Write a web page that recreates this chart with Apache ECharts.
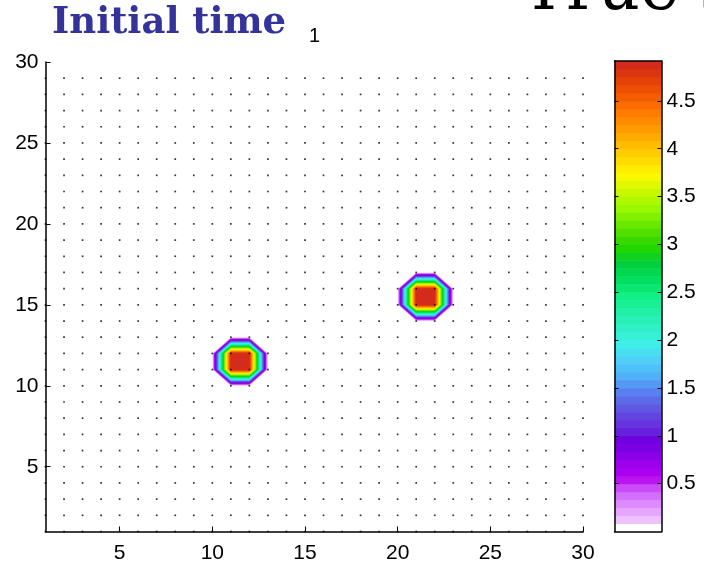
<!DOCTYPE html>
<html><head><meta charset="utf-8">
<script src="https://cdn.jsdelivr.net/npm/echarts@6/dist/echarts.min.js"></script>
<style>html,body{margin:0;padding:0;background:#fff}#c{width:704px;height:566px}</style>
</head><body><div id="c"></div>
<script>
// ---- data ----
const xGrid = [1,2,3,4,5,6,7,8,9,10,11,12,13,14,15,16,17,18,19,20,21,22,23,24,25,26,27,28,29,30];
const yGrid = [1,2,3,4,5,6,7,8,9,10,11,12,13,14,15,16,17,18,19,20,21,22,23,24,25,26,27,28,29,30];
const dotRows = [1,2,3,4,5,6,7,8,9,10,11,12,13,14,15,16,17,18,19,20,21,22,23,24,25,26,27,28,29];
const baseValue = 0;
// [x, y, value] of non-zero grid nodes
const peakCells = [
  [11,11,4.92],[12,11,4.92],[11,12,4.92],[12,12,4.92],
  [21,15,4.92],[22,15,4.92],[21,16,4.92],[22,16,4.92]
];
const levelStep = 1/12;
const colorMax = 4.9167;
const xTicks = [5,10,15,20,25,30];
const yTicks = [5,10,15,20,25,30];
const cbTicks = [0.5,1,1.5,2,2.5,3,3.5,4,4.5];
const titleText = 'Initial time';
const subText = '1';
const rightTitle = 'True state';

// colormap, bottom (index 0) to top
const colormap = [
 '#ffffff','#eec2ff','#e6a6ff','#de8aff','#d46efc','#ca4cf8',
 '#bc14f0','#ac00f0','#9c00ec','#8c00e8','#7c00e4','#7000e0',
 '#6820e0','#6834e0','#6444e0','#6058e0','#5c6ce8','#5880f0',
 '#5498f4','#50b0f8','#50c0f8','#50d0f8','#48e0f0','#40f0e8',
 '#38f0d8','#30f0c8','#28f0b8','#20f0a8','#18f098','#10f088',
 '#08e870','#00e060','#00d850','#00d040','#10d020','#20d800',
 '#38d800','#50e000','#68e800','#80f000','#98f800','#b0f800',
 '#c8f800','#e0f800','#f8f800','#ffec00','#ffdc00','#ffcc00',
 '#ffbc00','#ffac00','#ff9c00','#ff8c00','#ff7c00','#fc6c00',
 '#f45e00','#ec5000','#e44208','#dc3610','#d42c1c'
];

// ---- build field ----
const Z = yGrid.map(() => xGrid.map(() => baseValue));
peakCells.forEach(([x, y, v]) => { Z[yGrid.indexOf(y)][xGrid.indexOf(x)] = v; });

function clip(poly, L) {
  const out = [];
  for (let i = 0; i < poly.length; i++) {
    const cur = poly[i], prev = poly[(i + poly.length - 1) % poly.length];
    const ci = cur[2] >= L, pi = prev[2] >= L;
    if (ci !== pi) {
      const t = (L - prev[2]) / (cur[2] - prev[2]);
      out.push([prev[0] + t * (cur[0] - prev[0]), prev[1] + t * (cur[1] - prev[1]), L]);
    }
    if (ci) out.push(cur);
  }
  return out;
}
const polys = [];
for (let k = 1; k < colormap.length; k++) {
  const L = k * levelStep;
  for (let j = 0; j < yGrid.length - 1; j++) {
    for (let i = 0; i < xGrid.length - 1; i++) {
      const cell = [
        [xGrid[i], yGrid[j], Z[j][i]],
        [xGrid[i + 1], yGrid[j], Z[j][i + 1]],
        [xGrid[i + 1], yGrid[j + 1], Z[j + 1][i + 1]],
        [xGrid[i], yGrid[j + 1], Z[j + 1][i]]
      ];
      if (Math.max(cell[0][2], cell[1][2], cell[2][2], cell[3][2]) < L) continue;
      const p = clip(cell, L);
      if (p.length >= 3) polys.push({ pts: p.map(q => [q[0], q[1]]), color: colormap[k], cx: xGrid[i] + 0.5, cy: yGrid[j] + 0.5 });
    }
  }
}
const dots = [];
dotRows.forEach(y => xGrid.forEach(x => dots.push([x, y])));
const bands = colormap.map((c, k) => [k * levelStep, Math.min((k + 1) * levelStep, colorMax), k]);

const labelFont = { fontFamily: 'Liberation Sans, Arial, sans-serif', fontSize: 21, color: '#000' };
const axisLineStyle = { color: '#000', width: 1.5 };

const chart = echarts.init(document.getElementById('c'), null, { renderer: 'canvas' });
chart.setOption({
  animation: false,
  backgroundColor: '#fff',
  grid: [
    { left: 45.5, top: 62, width: 537.5, height: 469.5 },
    { left: 614.5, top: 61, width: 47, height: 470.5 }
  ],
  xAxis: [
    { gridIndex: 0, type: 'value', min: 1, max: 30,
      axisLine: { show: true, lineStyle: axisLineStyle },
      axisTick: { show: true, inside: true, length: 5, customValues: xTicks, lineStyle: { color: '#000' } },
      axisLabel: { ...labelFont, margin: 11, customValues: xTicks },
      splitLine: { show: false } },
    { gridIndex: 1, type: 'value', min: 0, max: 1, position: 'bottom', z: 5,
      axisLine: { show: true, onZero: false, lineStyle: axisLineStyle }, axisTick: { show: false }, axisLabel: { show: false }, splitLine: { show: false } },
    { gridIndex: 1, type: 'value', min: 0, max: 1, position: 'top', z: 5,
      axisLine: { show: true, onZero: false, lineStyle: axisLineStyle }, axisTick: { show: false }, axisLabel: { show: false }, splitLine: { show: false } }
  ],
  yAxis: [
    { gridIndex: 0, type: 'value', min: 1, max: 30,
      axisLine: { show: true, lineStyle: axisLineStyle },
      axisTick: { show: true, inside: true, length: 5, customValues: yTicks, lineStyle: { color: '#000' } },
      axisLabel: { ...labelFont, margin: 7, customValues: yTicks },
      splitLine: { show: false } },
    { gridIndex: 1, type: 'value', min: 0, max: colorMax, position: 'right', z: 5,
      axisLine: { show: true, onZero: false, lineStyle: axisLineStyle },
      axisTick: { show: true, inside: true, length: 4, customValues: cbTicks, lineStyle: { color: '#000', width: 1 } },
      axisLabel: { ...labelFont, margin: 5, customValues: cbTicks },
      splitLine: { show: false } },
    { gridIndex: 1, type: 'value', min: 0, max: colorMax, position: 'left', z: 5,
      axisLine: { show: true, onZero: false, lineStyle: axisLineStyle },
      axisTick: { show: true, inside: true, length: 4, customValues: cbTicks, lineStyle: { color: '#000', width: 1 } },
      axisLabel: { show: false },
      splitLine: { show: false } }
  ],
  series: [
    { type: 'custom', xAxisIndex: 0, yAxisIndex: 0, z: 2, silent: true, clip: false,
      data: polys.map((p, i) => [p.cx, p.cy, i]),
      renderItem: (params, api) => {
        const p = polys[params.dataIndex];
        return { type: 'polygon', shape: { points: p.pts.map(pt => api.coord(pt)) }, style: { fill: p.color } };
      } },
    { type: 'scatter', xAxisIndex: 0, yAxisIndex: 0, z: 3, silent: true,
      symbol: 'rect', symbolSize: 1.7, itemStyle: { color: '#000' }, data: dots },
    { type: 'custom', xAxisIndex: 1, yAxisIndex: 1, z: 2, silent: true,
      data: bands,
      renderItem: (params, api) => {
        const b = bands[params.dataIndex];
        const p0 = api.coord([0, b[0]]), p1 = api.coord([1, b[1]]);
        return { type: 'rect', shape: { x: p0[0], y: p1[1], width: p1[0] - p0[0], height: p0[1] - p1[1] + 0.5 }, style: { fill: colormap[b[2]] } };
      } }
  ],
  graphic: [
    { type: 'text', x: 52, y: 23, style: { text: titleText, font: 'bold 37px "DejaVu Serif", serif', fill: '#333399', textVerticalAlign: 'middle' } },
    { type: 'text', x: 309, y: 36, style: { text: subText, font: '20px "Liberation Sans", Arial, sans-serif', fill: '#000', textVerticalAlign: 'middle' } },
    { type: 'text', x: 522, y: -8, style: { text: rightTitle, font: '66px "DejaVu Serif", serif', fill: '#000', textVerticalAlign: 'middle' } }
  ]
});
</script>
</body></html>
